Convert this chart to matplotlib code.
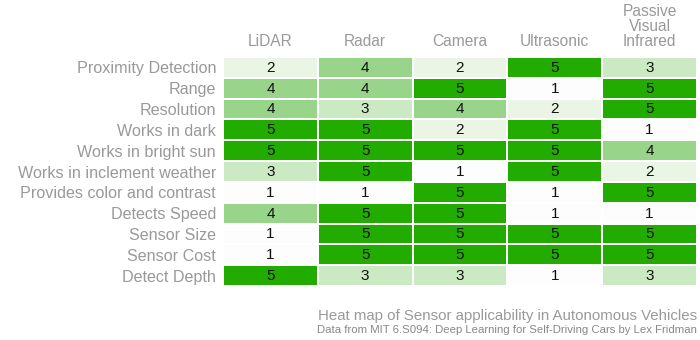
import numpy as np
import matplotlib
matplotlib.use("Agg")
import matplotlib.pyplot as plt
from matplotlib.colors import ListedColormap, BoundaryNorm

sensors = ["LiDAR", "Radar", "Camera", "Ultrasonic", "Passive\nVisual\nInfrared"]
criteria = ["Proximity Detection", "Range", "Resolution", "Works in dark",
            "Works in bright sun", "Works in inclement weather",
            "Provides color and contrast", "Detects Speed", "Sensor Size",
            "Sensor Cost", "Detect Depth"]
lidar = [2, 4, 4, 5, 5, 3, 1, 4, 1, 1, 5]
radar = [4, 4, 3, 5, 5, 5, 1, 5, 5, 5, 3]
camera = [2, 5, 4, 2, 5, 1, 5, 5, 5, 5, 3]
ultrasonic = [5, 1, 2, 5, 5, 5, 1, 1, 5, 5, 1]
passive_ir = [3, 5, 5, 1, 4, 2, 5, 1, 5, 5, 3]

scores = np.array([lidar, radar, camera, ultrasonic, passive_ir]).T

plt.rcParams["font.family"] = ["Liberation Sans", "DejaVu Sans"]

fig = plt.figure(figsize=(7, 3.4), dpi=100)
ax = fig.add_axes([223 / 700, 1 - 286 / 340, 474 / 700, 229 / 340])

cmap = ListedColormap(["#fdfdfd", "#eaf5e6", "#cbeac4", "#98d48a", "#22ac00"])
norm = BoundaryNorm([0.5, 1.5, 2.5, 3.5, 4.5, 5.5], cmap.N)
ax.pcolormesh(scores, cmap=cmap, norm=norm, edgecolors="white", linewidth=1.3)
ax.set_xlim(0, len(sensors))
ax.set_ylim(len(criteria), 0)

for i in range(len(criteria)):
    for j in range(len(sensors)):
        ax.text(j + 0.5, i + 0.52, str(scores[i, j]), ha="center", va="center",
                fontsize=11, color="#111111")

for s in ax.spines.values():
    s.set_visible(False)
ax.set_xticks([])
ax.set_yticks(np.arange(len(criteria)) + 0.5)
ax.set_yticklabels(criteria, fontsize=11.6, color="#999999")
ax.tick_params(axis="y", length=0, pad=5)

for j, name in enumerate(sensors):
    ax.text(j + 0.5, -0.4, name, ha="center", va="bottom", fontsize=11.2,
            color="#999999", linespacing=1.0)

fig.text(697 / 700, 1 - 316 / 340, "Heat map of Sensor applicability in Autonomous Vehicles",
         ha="right", va="center", fontsize=10.8, color="#999999")
fig.text(697 / 700, 1 - 330 / 340, "Data from MIT 6.S094: Deep Learning for Self-Driving Cars by Lex Fridman",
         ha="right", va="center", fontsize=8.2, color="#888888")

fig.savefig("out.png", dpi=100, facecolor="white")
